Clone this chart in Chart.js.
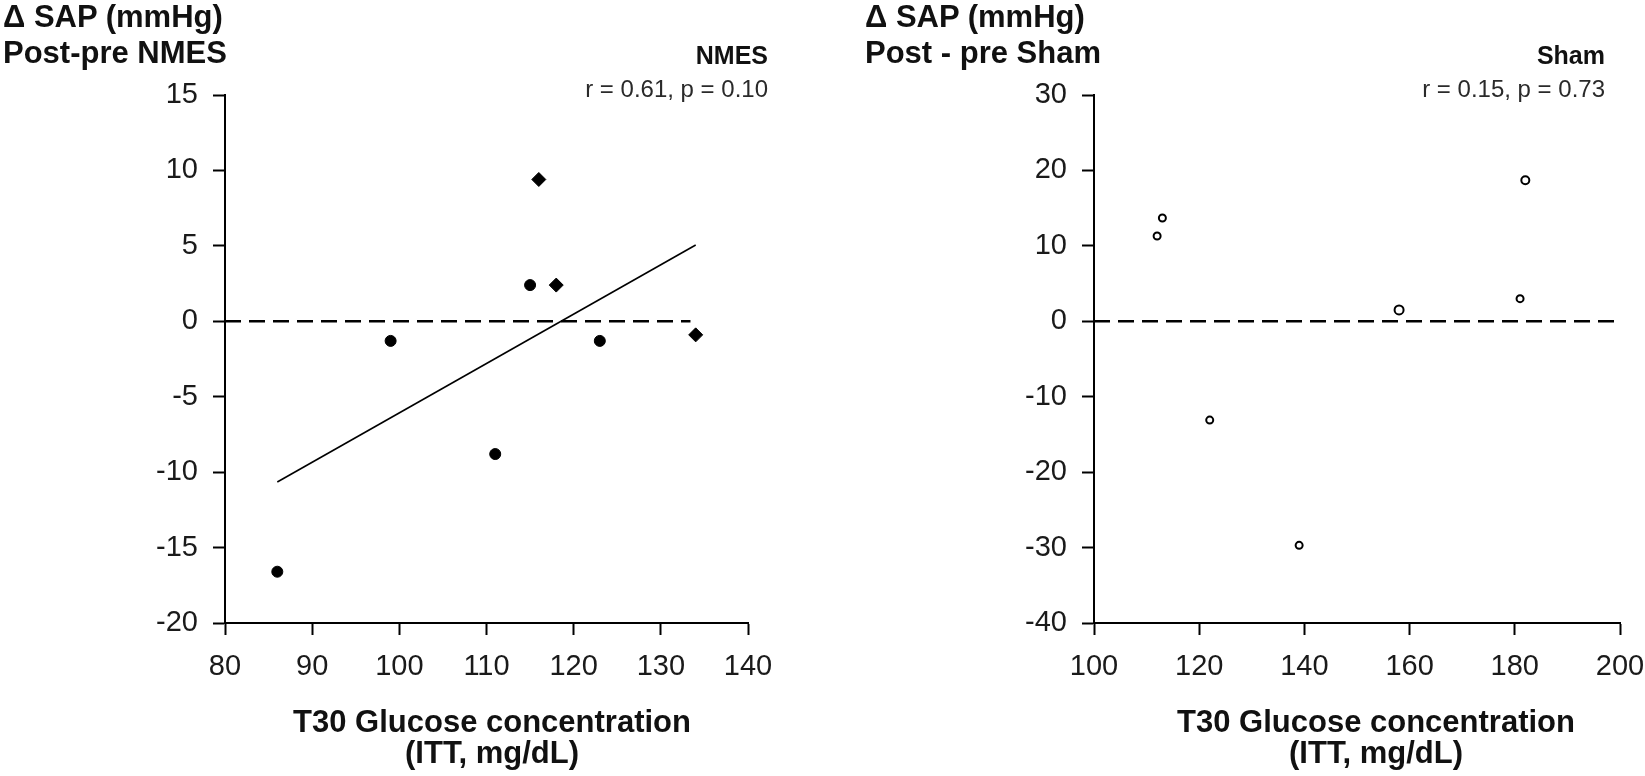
<!DOCTYPE html>
<html>
<head>
<meta charset="utf-8">
<script src="https://cdn.jsdelivr.net/npm/chart.js@4.4.1/dist/chart.umd.min.js"></script>
<style>
  html, body {
    margin: 0;
    padding: 0;
    background: #ffffff;
  }
  body {
    position: relative;
    width: 1645px;
    height: 776px;
    overflow: hidden;
    font-family: "Liberation Sans", Arial, sans-serif;
    color: #111111;
  }
  canvas {
    position: absolute;
    top: 0;
  }
  .txt {
    position: absolute;
    white-space: nowrap;
  }
  .head {
    font-weight: bold;
    font-size: 31px;
    line-height: 36px;
    top: -1px;
  }
  .group {
    font-weight: bold;
    font-size: 25px;
    line-height: 25px;
    top: 43px;
    text-align: right;
  }
  .stat {
    font-size: 24px;
    line-height: 24px;
    top: 77px;
    color: #2a2a2a;
    text-align: right;
  }
  .xtitle {
    font-weight: bold;
    font-size: 31px;
    line-height: 31px;
    top: 706px;
    text-align: center;
    transform: translateX(-50%);
  }
</style>
</head>
<body>
<canvas id="nmes-chart" width="800" height="776" style="left:0px;width:800px;height:776px"></canvas>
<canvas id="sham-chart" width="830" height="776" style="left:840px;width:830px;height:776px"></canvas>

<div class="txt head" style="left:3px">&Delta; SAP (mmHg)<br>Post-pre NMES</div>
<div class="txt group" style="right:877px">NMES</div>
<div class="txt stat" style="right:877px">r = 0.61, p = 0.10</div>
<div class="txt xtitle" style="left:492px">T30 Glucose concentration<br>(ITT, mg/dL)</div>

<div class="txt head" style="left:865px">&Delta; SAP (mmHg)<br>Post - pre Sham</div>
<div class="txt group" style="right:40px">Sham</div>
<div class="txt stat" style="right:40px">r = 0.15, p = 0.73</div>
<div class="txt xtitle" style="left:1376px">T30 Glucose concentration<br>(ITT, mg/dL)</div>

<script>
// NMES group (left panel)
const nmesGlucose = [86, 99, 111, 115, 116, 118, 123, 134];
const nmesSap = [-16.6, -1.3, -8.8, 2.4, 9.4, 2.4, -1.3, -0.9];
const nmesMarker = ["circle", "circle", "circle", "circle", "rectRot", "rectRot", "circle", "rectRot"];
const nmesFitX = [86, 134];
const nmesFitY = [-10.65, 5.06];
const nmesZeroX = [80, 133.4];

// Sham group (right panel)
const shamGlucose = [112, 113, 122, 139, 158, 181, 182];
const shamSap = [11.3, 13.7, -13.1, -29.7, 1.5, 3.0, 18.7];
const shamSize = [3.5, 3.5, 3.5, 3.5, 4.5, 3.5, 4];
const shamZeroX = [100, 199];

// axis ranges / ticks
const nmesXTicks = { min: 80, max: 140, step: 10 };
const nmesYTicks = { min: -20, max: 15, step: 5 };
const shamXTicks = { min: 100, max: 200, step: 20 };
const shamYTicks = { min: -40, max: 30, step: 10 };

const tickFont = { family: "'Liberation Sans', Arial, sans-serif", size: 29 };

function toPoints(xs, ys) {
  return xs.map((x, i) => ({ x: x, y: ys[i] }));
}

function axis(range, fixedSize, isX) {
  return {
    type: "linear",
    min: range.min,
    max: range.max,
    border: { display: true, color: "#000000", width: 2 },
    grid: {
      display: true,
      drawOnChartArea: false,
      drawTicks: true,
      tickLength: 12,
      tickWidth: 2,
      tickColor: "#000000",
    },
    ticks: {
      stepSize: range.step,
      color: "#1a1a1a",
      font: tickFont,
      padding: 15,
      maxRotation: 0,
    },
    afterFit: (scale) => {
      if (isX) {
        scale.height = fixedSize;
      } else {
        scale.width = fixedSize;
      }
    },
  };
}

function createPanel(canvasId, datasets, xRange, yRange, yWidth, rightPad) {
  const ctx = document.getElementById(canvasId).getContext("2d");
  return new Chart(ctx, {
    type: "scatter",
    data: { datasets: datasets },
    options: {
      responsive: false,
      animation: false,
      devicePixelRatio: 1,
      layout: { padding: { top: 95, right: rightPad, bottom: 0, left: 0 } },
      plugins: {
        legend: { display: false },
        tooltip: { enabled: false },
      },
      scales: {
        x: axis(xRange, 153, true),
        y: axis(yRange, yWidth, false),
      },
    },
  });
}

createPanel(
  "nmes-chart",
  [
    {
      label: "NMES",
      data: toPoints(nmesGlucose, nmesSap),
      pointStyle: nmesMarker,
      pointRadius: nmesMarker.map((s) => (s === "rectRot" ? 7 : 5.5)),
      backgroundColor: "#000000",
      borderColor: "#000000",
      borderWidth: 1,
    },
    {
      type: "line",
      label: "fit",
      data: toPoints(nmesFitX, nmesFitY),
      borderColor: "#000000",
      borderWidth: 1.6,
      pointRadius: 0,
      fill: false,
    },
    {
      type: "line",
      label: "zero",
      data: toPoints(nmesZeroX, [0, 0]),
      borderColor: "#000000",
      borderWidth: 2.5,
      borderDash: [16, 8],
      pointRadius: 0,
      fill: false,
    },
  ],
  nmesXTicks,
  nmesYTicks,
  225,
  52
);

createPanel(
  "sham-chart",
  [
    {
      label: "Sham",
      data: toPoints(shamGlucose, shamSap),
      pointStyle: "circle",
      pointRadius: shamSize,
      backgroundColor: "#ffffff",
      borderColor: "#000000",
      borderWidth: 2,
    },
    {
      type: "line",
      label: "zero",
      data: toPoints(shamZeroX, [0, 0]),
      borderColor: "#000000",
      borderWidth: 2.5,
      borderDash: [16, 8],
      pointRadius: 0,
      fill: false,
    },
  ],
  shamXTicks,
  shamYTicks,
  254,
  50
);
</script>
</body>
</html>
